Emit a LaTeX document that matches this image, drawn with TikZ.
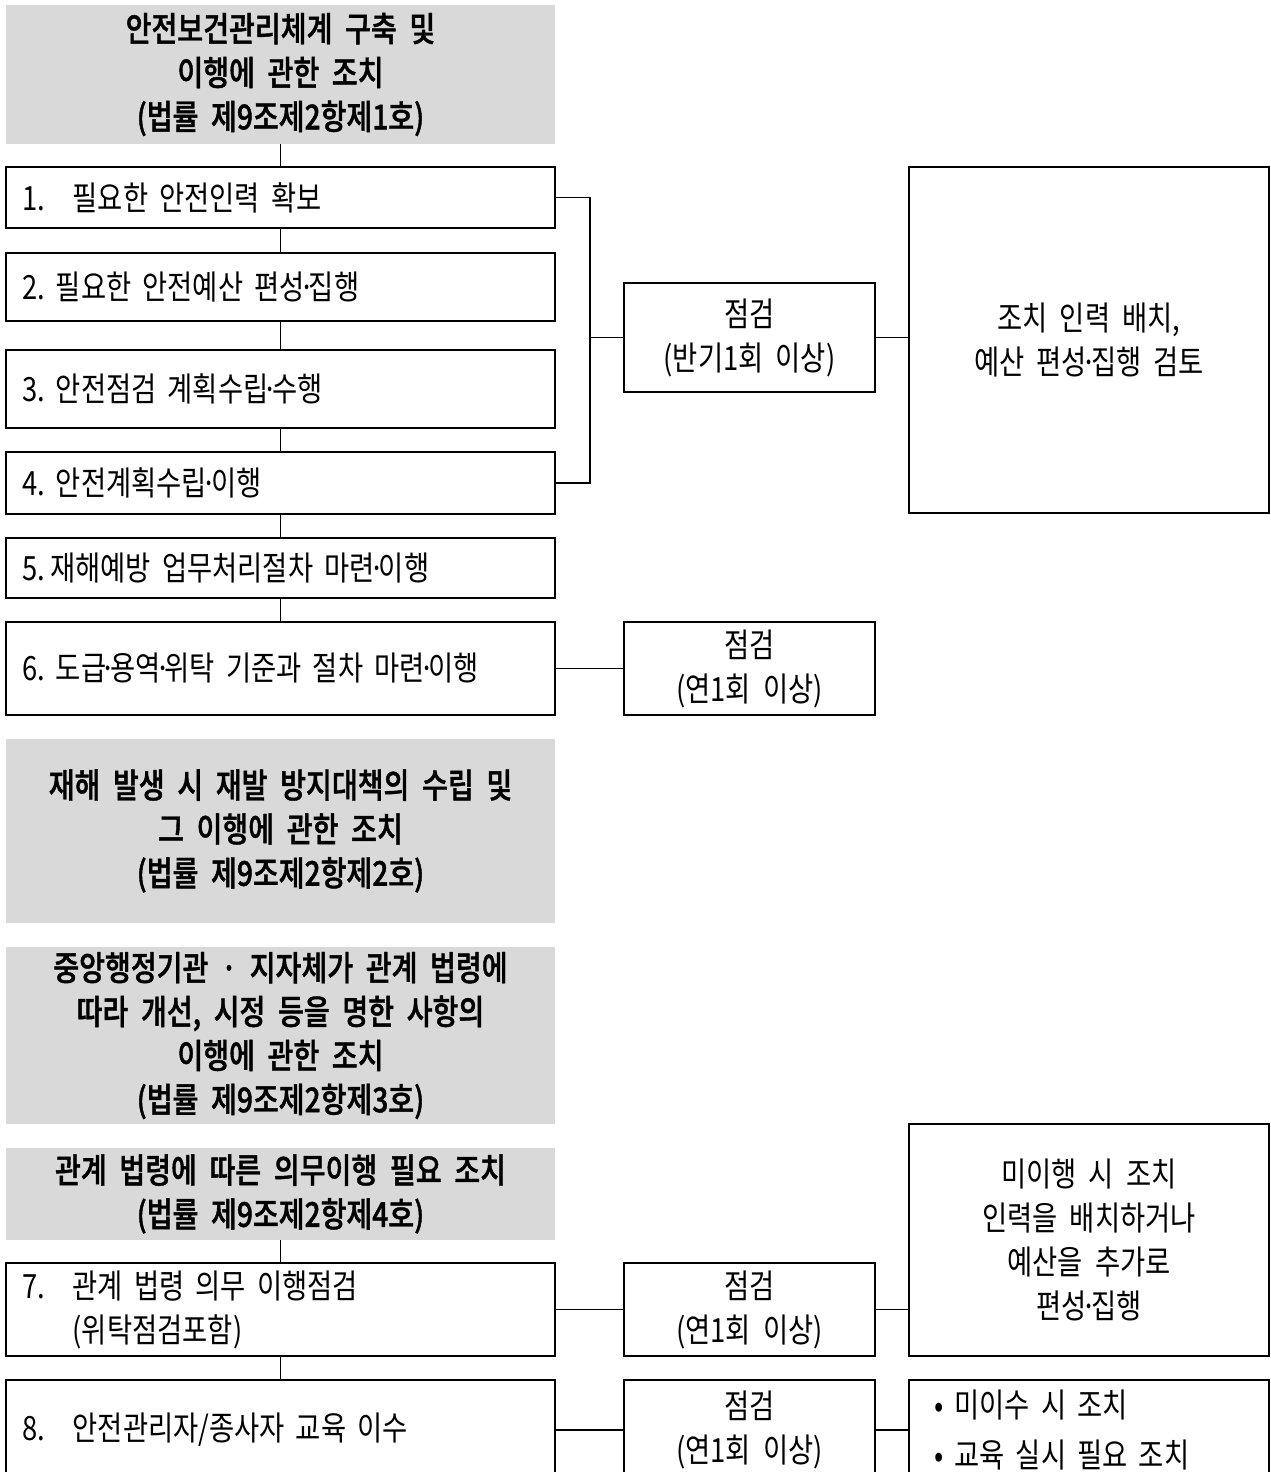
\documentclass[tikz,border=0pt]{standalone}
\usepackage{fontspec}
\setmainfont[FakeStretch=0.82,WordSpace=2,BoldFont={Noto Sans CJK KR Medium},BoldFeatures={FakeBold=1.2}]{Noto Sans CJK KR}
\usepackage{tikz}
\definecolor{hdrgray}{HTML}{D9D9D9}
\newcommand{\mdot}{\kern-0.17em·\kern-0.17em}

\begin{document}
\begin{tikzpicture}[x=0.02cm,y=-0.02cm,
    hdr/.style={fill=hdrgray,font=\fontsize{19.5}{25}\selectfont\bfseries,align=center,minimum width=10.98cm,inner sep=0pt},
    item/.style={draw,line width=0.8pt,font=\fontsize{19}{25}\selectfont,align=left,text width=10.34cm,inner xsep=0.32cm,inner ysep=0pt},
    chk/.style={draw,line width=0.8pt,font=\fontsize{19}{25}\selectfont,align=center,minimum width=5.02cm,inner sep=0pt},
    res/.style={draw,line width=0.8pt,font=\fontsize{19}{25}\selectfont,align=center,minimum width=7.2cm,inner sep=0pt},
    link/.style={line width=0.8pt}]
  \useasboundingbox (0,0) rectangle (1271,1472);
  \clip (0,0) rectangle (1271,1472);

  \node[hdr,minimum height=2.78cm] (H1) at (280.5,74.5) {안전보건관리체계 구축 및\\이행에 관한 조치\\(법률 제9조제2항제1호)};
  \node[item,minimum height=1.22cm] (B1) at (280.5,197.5) {1.~ 필요한 안전인력 확보};
  \node[item,minimum height=1.36cm] (B2) at (280.5,287) {2.~필요한 안전예산 편성\mdot 집행};
  \node[item,minimum height=1.56cm] (B3) at (280.5,389) {3.~안전점검 계획수립\mdot 수행};
  \node[item,minimum height=1.24cm] (B4) at (280.5,483) {4.~안전계획수립\mdot 이행};
  \node[item,minimum height=1.2cm] (B5) at (280.5,568) {5.\,재해예방 업무처리절차 마련\mdot 이행};
  \node[item,minimum height=1.86cm] (B6) at (280.5,668.5) {6.~도급\mdot 용역\mdot 위탁 기준과 절차 마련\mdot 이행};
  \node[hdr,minimum height=3.68cm] (H2) at (280.5,831) {재해 발생 시 재발 방지대책의 수립 및\\그 이행에 관한 조치\\(법률 제9조제2항제2호)};
  \node[hdr,minimum height=3.54cm] (H3) at (280.5,1035.5) {중앙행정기관 · 지자체가 관계 법령에\\따라 개선, 시정 등을 명한 사항의\\이행에 관한 조치\\(법률 제9조제2항제3호)};
  \node[hdr,minimum height=1.84cm] (H4) at (280.5,1194) {관계 법령에 따른 의무이행 필요 조치\\(법률 제9조제2항제4호)};
  \node[item,minimum height=1.86cm] (B7) at (280.5,1309.5) {7.~ 관계 법령 의무 이행점검\\\hphantom{7.~ }(위탁점검포함)};
  \node[item,minimum height=2cm] (B8) at (280.5,1430) {8.~ 안전관리자/종사자 교육 이수};

  \node[chk,minimum height=2.18cm] (C1) at (749.5,337.5) {점검\\(반기1회 이상)};
  \node[chk,minimum height=1.86cm] (C2) at (749.5,668.5) {점검\\(연1회 이상)};
  \node[chk,minimum height=1.86cm] (C3) at (749.5,1309.5) {점검\\(연1회 이상)};
  \node[chk,minimum height=2cm] (C4) at (749.5,1430) {점검\\(연1회 이상)};

  \node[res,minimum height=6.92cm] (R1) at (1089,340) {조치 인력 배치,\\예산 편성\mdot 집행 검토};
  \node[res,minimum height=4.64cm] (R2) at (1089,1240) {미이행 시 조치\\인력을 배치하거나\\예산을 추가로\\편성\mdot 집행};
  \node[res,minimum height=2cm,align=left,text width=6.2cm,inner xsep=0.5cm] (R3) at (1089,1430) {• 미이수 시 조치\\[3pt]• 교육 실시 필요 조치};

  \coordinate (J) at (590,337.5);
  \draw[link] (H1.south) -- (B1.north);
  \draw[link] (B1.south) -- (B2.north);
  \draw[link] (B2.south) -- (B3.north);
  \draw[link] (B3.south) -- (B4.north);
  \draw[link] (B4.south) -- (B5.north);
  \draw[link] (B5.south) -- (B6.north);
  \draw[link] (H4.south) -- (B7.north);
  \draw[link] (B7.south) -- (B8.north);
  \draw[link] (B1.east) -| (J) |- (B4.east);
  \draw[link] (J) -- (C1.west);
  \draw[link] (C1.east) -- (C1.east -| R1.west);
  \draw[link] (B6.east) -- (C2.west);
  \draw[link] (B7.east) -- (C3.west);
  \draw[link] (C3.east) -- (C3.east -| R2.west);
  \draw[link] (B8.east) -- (C4.west);
  \draw[link] (C4.east) -- (R3.west);
\end{tikzpicture}
\end{document}
